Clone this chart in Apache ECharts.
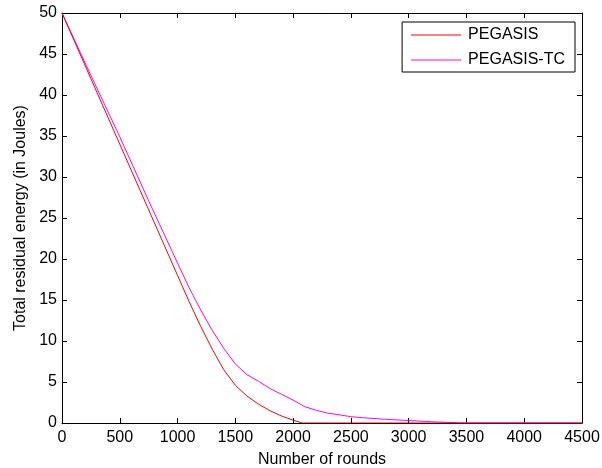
<!DOCTYPE html>
<html>
<head>
<meta charset="utf-8">
<script src="https://cdn.jsdelivr.net/npm/echarts@6/dist/echarts.min.js"></script>
<style>
  html, body { margin: 0; padding: 0; background: #fff; }
  #chart { width: 602px; height: 468px; }
</style>
</head>
<body>
<div id="chart"></div>
<script>
  // rounds vs residual energy
  const pegasisRounds = [0, 250, 500, 750, 1000, 1100, 1200, 1300, 1400, 1500, 1600, 1700, 1800, 1900, 2000, 2080, 4500]
  const pegasisEnergy = [50, 42.0, 34.0, 26.0, 18.0, 14.8, 11.8, 9.0, 6.5, 4.6, 3.3, 2.3, 1.5, 0.85, 0.35, 0, 0]

  const tcRounds = [0, 250, 500, 750, 1000, 1100, 1200, 1300, 1400, 1500, 1600, 1700, 1800, 1900, 2000, 2100, 2200, 2300, 2400, 2500, 2600, 2800, 3000, 3200, 3400, 3450, 4500]
  const tcEnergy = [50, 42.4, 34.9, 27.1, 19.5, 16.5, 13.8, 11.3, 9.1, 7.2, 5.9, 5.1, 4.2, 3.5, 2.8, 2.0, 1.55, 1.2, 1.0, 0.77, 0.65, 0.45, 0.3, 0.15, 0.05, 0, 0]

  const seriesNames = ['PEGASIS', 'PEGASIS-TC']
  const seriesColors = ['#ff0000', '#ff00ff']

  const zip = (xs, ys) => xs.map((x, i) => [x, ys[i]])

  const font = 'Liberation Sans, Arial, sans-serif'
  // MATLAB style box: ticks point into the plot on all four sides
  const tick = () => ({show: true, inside: true, length: 5, lineStyle: {color: '#000', width: 1}})
  const line = () => ({show: true, onZero: false, lineStyle: {color: '#000', width: 1}})
  const label = (margin) => ({fontFamily: font, fontSize: 16, color: '#000', margin: margin, formatter: v => String(v)})

  const chart = echarts.init(document.getElementById('chart'))
  const option = {
    animation: false,
    backgroundColor: '#fff',
    grid: {left: 62, right: 20, top: 13, bottom: 45, outerBoundsMode: 'none'},
    legend: {
      data: seriesNames,
      right: 27,
      top: 22,
      orient: 'vertical',
      icon: 'rect',
      itemWidth: 50,
      itemHeight: 1,
      itemGap: 9,
      padding: [5, 10, 4, 9],
      borderColor: '#000',
      borderWidth: 1,
      borderRadius: 0,
      backgroundColor: '#fff',
      textStyle: {fontFamily: font, fontSize: 16, color: '#000', padding: [0, 0, 0, 2]}
    },
    xAxis: [
      {
        type: 'value', min: 0, max: 4500, interval: 500,
        name: 'Number of rounds', nameLocation: 'middle', nameGap: 29,
        nameTextStyle: {fontFamily: font, fontSize: 16, color: '#000'},
        axisLine: line(), axisTick: tick(), axisLabel: label(7),
        splitLine: {show: false}
      },
      {
        type: 'value', position: 'top', min: 0, max: 4500, interval: 500,
        axisLine: line(), axisTick: tick(),
        axisLabel: {show: false}, splitLine: {show: false}
      }
    ],
    yAxis: [
      {
        type: 'value', min: 0, max: 50, interval: 5,
        name: 'Total residual energy (in Joules)', nameLocation: 'middle', nameGap: 30,
        nameTextStyle: {fontFamily: font, fontSize: 16, color: '#000'},
        axisLine: line(), axisTick: tick(), axisLabel: label(5),
        splitLine: {show: false}
      },
      {
        type: 'value', position: 'right', min: 0, max: 50, interval: 5,
        axisLine: line(), axisTick: tick(),
        axisLabel: {show: false}, splitLine: {show: false}
      }
    ],
    series: [
      {
        name: seriesNames[0], type: 'line', showSymbol: false, symbol: 'none',
        color: seriesColors[0], lineStyle: {width: 1},
        data: zip(pegasisRounds, pegasisEnergy), z: 3
      },
      {
        name: seriesNames[1], type: 'line', showSymbol: false, symbol: 'none',
        color: seriesColors[1], lineStyle: {width: 1},
        data: zip(tcRounds, tcEnergy), z: 2
      }
    ]
  }
  chart.setOption(option)
</script>
</body>
</html>
